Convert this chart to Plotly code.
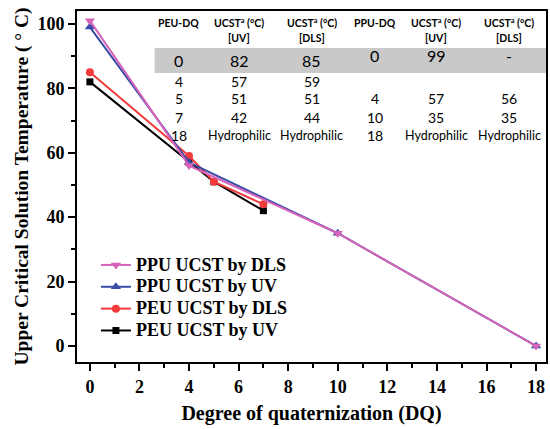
import plotly.graph_objects as go

# Data
ppu_dls_x = [0, 4, 10, 18]
ppu_dls_y = [101, 56, 35, 0]
ppu_uv_x = [0, 4, 10, 18]
ppu_uv_y = [99, 57, 35, 0]
peu_dls_x = [0, 4, 5, 7]
peu_dls_y = [85, 59, 51, 44]
peu_uv_x = [0, 4, 5, 7]
peu_uv_y = [82, 57, 51, 42]

# Inset table
table_headers_1 = ["PEU-DQ", "UCST<sup>a</sup> (°C)", "UCST<sup>a</sup> (°C)",
                   "PPU-DQ", "UCST<sup>a</sup> (°C)", "UCST<sup>a</sup> (°C)"]
table_headers_2 = ["", "[UV]", "[DLS]", "", "[UV]", "[DLS]"]
peu_rows = [["0", "82", "85"], ["4", "57", "59"], ["5", "51", "51"],
            ["7", "42", "44"], ["18", "Hydrophilic", "Hydrophilic"]]
ppu_rows = [["0", "99", "-"], ["", "", ""], ["4", "57", "56"],
            ["10", "35", "35"], ["18", "Hydrophilic", "Hydrophilic"]]

fig = go.Figure()
serif = "Liberation Serif"
sans = "Lato"

series = [
    ("PPU UCST by DLS", ppu_dls_x, ppu_dls_y, "#D563B9", "triangle-down", 9),
    ("PPU UCST by UV", ppu_uv_x, ppu_uv_y, "#3B4BA8", "triangle-up", 9),
    ("PEU UCST by DLS", peu_dls_x, peu_dls_y, "#F23B3B", "circle", 8),
    ("PEU UCST by UV", peu_uv_x, peu_uv_y, "#000000", "square", 7),
]
for name, x, y, c, sym, sz in series[::-1]:
    fig.add_trace(go.Scatter(
        x=x, y=y, mode="lines+markers",
        name="<span style='font-size:18px'><b>" + name + "</b></span>",
        line=dict(color=c, width=2),
        marker=dict(symbol=sym, size=sz, color=c)))

W, H = 550, 429
L, R, T, B = 77, 2, 11, 67
pw, ph = W - L - R, H - T - B

def px(xp):
    return (xp - L) / pw

def py(yp):
    return (H - B - yp) / ph

# gray band
fig.add_shape(type="rect", xref="paper", yref="paper",
              x0=px(155), x1=1.0, y0=py(73), y1=py(48),
              fillcolor="#C9C9C9", line=dict(width=0), layer="below")

col_x = [179, 240, 313, 376, 438, 511]
for cx, h1, h2 in zip(col_x, table_headers_1, table_headers_2):
    fig.add_annotation(x=px(cx), y=py(23), xref="paper", yref="paper", text="<b>" + h1 + "</b>",
                       showarrow=False, font=dict(family=sans, size=10.5, color="black"),
                       xanchor="center", yanchor="middle")
    if h2:
        fig.add_annotation(x=px(cx), y=py(38), xref="paper", yref="paper", text="<b>" + h2 + "</b>",
                           showarrow=False, font=dict(family=sans, size=10.5, color="black"),
                           xanchor="center", yanchor="middle")
row_y = [61, 81, 99, 117, 135]
ppu_row_y = [55, 81, 99, 117, 135]
for ri, (pr, qr) in enumerate(zip(peu_rows, ppu_rows)):
    vals = pr + qr
    for ci, v in enumerate(vals):
        if not v:
            continue
        yy = (row_y if ci < 3 else ppu_row_y)[ri]
        sz = 16 if ri == 0 else 14
        if v == "Hydrophilic":
            sz = 12.5
        fig.add_annotation(x=px(col_x[ci]), y=py(yy), xref="paper", yref="paper", text=v,
                           showarrow=False, font=dict(family=sans, size=sz, color="black"),
                           xanchor="center", yanchor="middle")

axis_common = dict(showline=True, linecolor="black", linewidth=2, mirror=True,
                   ticks="outside", tickwidth=2, ticklen=7, tickcolor="black",
                   showgrid=False, zeroline=False,
                   tickfont=dict(family=serif, size=18, color="black"))
fig.update_xaxes(range=[-0.52, 18.4], tickvals=list(range(0, 19, 2)),
                 ticktext=["<b>%d</b>" % v for v in range(0, 19, 2)],
                 minor=dict(dtick=1, tick0=0, ticks="outside", ticklen=4, tickwidth=2, tickcolor="black"),
                 title=dict(text="<b>Degree of quaternization (DQ)</b>",
                            font=dict(family=serif, size=20, color="black"), standoff=10),
                 **axis_common)
fig.update_yaxes(range=[-4.97, 104.0], tickvals=list(range(0, 101, 20)),
                 ticktext=["<b>%d</b>" % v for v in range(0, 101, 20)],
                 minor=dict(dtick=10, tick0=0, ticks="outside", ticklen=4, tickwidth=2, tickcolor="black"),
                 title=dict(text="<b>Upper Critical Solution Temperature ( ° C)</b>",
                            font=dict(family=serif, size=19.5, color="black"), standoff=4),
                 **axis_common)

fig.update_layout(width=W, height=H, margin=dict(l=L, r=R, t=T, b=B),
                  plot_bgcolor="white", paper_bgcolor="white",
                  legend=dict(x=px(96), y=py(249), xanchor="left", yanchor="top",
                              traceorder="reversed", bgcolor="rgba(0,0,0,0)",
                              font=dict(family=serif, size=14.5, color="black"),
                              tracegroupgap=0),
                  showlegend=True)

fig.write_html("out.html")
